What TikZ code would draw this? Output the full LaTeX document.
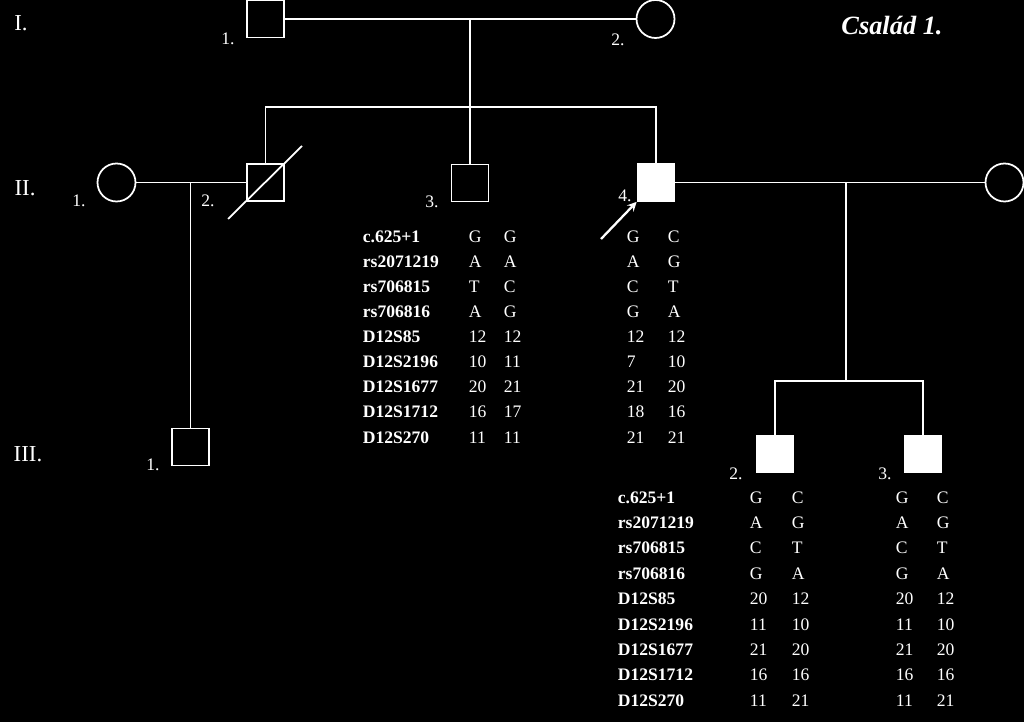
\documentclass[tikz,border=0pt]{standalone}
\usepackage{fontspec}
\setmainfont{Liberation Serif}
\begin{document}
\begin{tikzpicture}[x=0.02cm, y=-0.02cm, white, line width=1pt,
    male/.style={draw, rectangle, minimum size=.74cm, inner sep=0},
    female/.style={draw, circle, minimum size=.76cm, inner sep=0},
    aff/.style={fill=white},
    num/.style={font=\fontsize{10}{12}\selectfont, inner sep=0},
    gen/.style={font=\fontsize{13}{15}\selectfont, inner sep=0},
    locus/.style={font=\fontsize{10}{12}\selectfont\bfseries, anchor=west, inner sep=0, text height=7pt, text depth=0pt},
    allele/.style={font=\fontsize{10}{12}\selectfont, anchor=west, inner sep=0, text height=7pt, text depth=0pt}]
  \useasboundingbox (0,0) rectangle (1024,722);
  \fill [black] (0,0) rectangle (1024,722);

  % generations
  \node [gen] (gI) at (21,23) {I.};
  \node [gen] (gII) at (25,188) {II.};
  \node [gen] (gIII) at (28,454) {III.};
  \node [font=\fontsize{15}{18}\selectfont\bfseries\itshape] (title) at (892,26) {Család 1.};

  % individuals
  \node [male] (I1) at (265.5,19) {};
  \node [female] (I2) at (655.5,19) {};
  \node [female] (II1) at (116.5,182.5) {};
  \node [male] (II2) at (265.5,182.5) {};
  \node [male] (II3) at (470,183) {};
  \node [male, aff] (II4) at (656,182.5) {};
  \node [female] (II5) at (1004.5,182.5) {};
  \node [male] (III1) at (190.5,447) {};
  \node [male, aff] (III2) at (775,454) {};
  \node [male, aff] (III3) at (923,454) {};

  \node [num] (nI1) at (228,39) {1.};
  \node [num] (nI2) at (618,40) {2.};
  \node [num] (nII1) at (79,201) {1.};
  \node [num] (nII2) at (208,201) {2.};
  \node [num] (nII3) at (432,202) {3.};
  \node [num] (nII4) at (625,196) {4.};
  \node [num] (nIII1) at (153,465) {1.};
  \node [num] (nIII2) at (736,474) {2.};
  \node [num] (nIII3) at (885,474) {3.};

  % lines
  \coordinate (m1) at (470,19);
  \coordinate (s1) at (470,107);
  \coordinate (m2) at (190.5,182.5);
  \coordinate (m3) at (846,182.5);
  \coordinate (s3) at (846,381);
  \coordinate (d1) at (228,219);
  \coordinate (d2) at (302,146);
  \coordinate (arr) at (601,239);
  \draw (I1) -- (I2);
  \draw (m1) -- (s1);
  \draw (II2) |- (s1) -| (II4);
  \draw (s1) -- (II3);
  \draw (II1) -- (II2);
  \draw (m2) -- (III1);
  \draw (d1) -- (d2);
  \draw (II4) -- (II5);
  \draw (m3) -- (s3);
  \draw (III2) |- (s3) -| (III3);
  \draw [-stealth, line width=1.3pt] (arr) -- (II4.south west);

  % haplotypes
  \foreach \l/\a/\b/\c/\d [count=\i] in {c.625+1/G/G/G/C, rs2071219/A/A/A/G, rs706815/T/C/C/T, rs706816/A/G/G/A, D12S85/12/12/12/12, D12S2196/10/11/7/10, D12S1677/20/21/21/20, D12S1712/16/17/18/16, D12S270/11/11/21/21} {
    \node [locus] (ta\i) at (362,{211+25.1*\i}) {\l};
    \node [allele] (ta\i-1) at (468,{211+25.1*\i}) {\a};
    \node [allele] (ta\i-2) at (503,{211+25.1*\i}) {\b};
    \node [allele] (ta\i-3) at (626,{211+25.1*\i}) {\c};
    \node [allele] (ta\i-4) at (667,{211+25.1*\i}) {\d};
  }
  \foreach \l/\a/\b/\c/\d [count=\i] in {c.625+1/G/C/G/C, rs2071219/A/G/A/G, rs706815/C/T/C/T, rs706816/G/A/G/A, D12S85/20/12/20/12, D12S2196/11/10/11/10, D12S1677/21/20/21/20, D12S1712/16/16/16/16, D12S270/11/21/11/21} {
    \node [locus] (tb\i) at (617,{471.6+25.4*\i}) {\l};
    \node [allele] (tb\i-1) at (749,{471.6+25.4*\i}) {\a};
    \node [allele] (tb\i-2) at (791,{471.6+25.4*\i}) {\b};
    \node [allele] (tb\i-3) at (895,{471.6+25.4*\i}) {\c};
    \node [allele] (tb\i-4) at (936,{471.6+25.4*\i}) {\d};
  }
\end{tikzpicture}
\end{document}
